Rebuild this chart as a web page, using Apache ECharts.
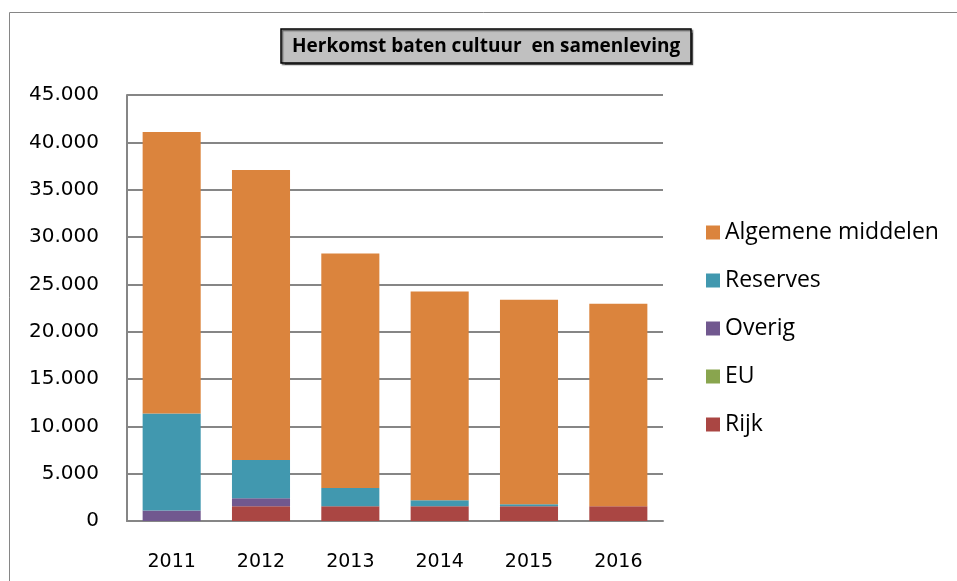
<!DOCTYPE html>
<html>
<head>
<meta charset="utf-8">
<script src="https://cdn.jsdelivr.net/npm/echarts@6/dist/echarts.min.js"></script>
<style>
html,body{margin:0;padding:0;background:#fff;}
#c{width:957px;height:581px;}
</style>
</head>
<body>
<div id="c"></div>
<script>
var categories = ['2011','2012','2013','2014','2015','2016'];
var rijk      = [0, 1560, 1560, 1560, 1560, 1560];
var eu        = [0, 0, 0, 0, 0, 0];
var overig    = [1100, 850, 0, 0, 0, 0];
var reserves  = [10250, 4040, 1915, 640, 210, 0];
var algemeen  = [29740, 30620, 24770, 22030, 21610, 21400];
var yMin = 0, yMax = 45000, yStep = 5000;
var titleText = 'Herkomst baten cultuur  en samenleving';
var legendOrder = ['Algemene middelen','Reserves','Overig','EU','Rijk'];

var chart = echarts.init(document.getElementById('c'), null, {renderer:'canvas'});
function fmt(v){ return String(v).replace(/\B(?=(\d{3})+(?!\d))/g, '.'); }
function s(name, data, color){
  return {name:name, type:'bar', stack:'total', data:data, barCategoryGap:'35%',
    itemStyle:{color:color}, emphasis:{disabled:true}};
}
chart.setOption({
  animation:false,
  backgroundColor:'#ffffff',
  graphic:[{type:'rect', shape:{x:9.5, y:12.5, width:1000, height:1000}, style:{fill:'none', stroke:'#868686', lineWidth:1}, z:-1}],
  title:{text:titleText, left:281, top:29, padding:[8,11,7,11],
    backgroundColor:'#c0c0c0', borderColor:'#000', borderWidth:1.5,
    shadowColor:'rgba(0,0,0,0.5)', shadowOffsetX:1.5, shadowOffsetY:1.5, shadowBlur:1,
    textStyle:{fontFamily:'Open Sans', fontWeight:'bold', fontSize:19, color:'#000'}},
  legend:{orient:'vertical', left:706, top:221, itemWidth:14, itemHeight:14, itemGap:25,
    icon:'rect', data:legendOrder, padding:0,
    textStyle:{fontFamily:'Open Sans', fontSize:23, color:'#000'}},
  grid:{left:127, right:294, top:95, bottom:60, containLabel:false},
  xAxis:{type:'category', data:categories,
    axisLine:{lineStyle:{color:'#868686', width:2}}, axisTick:{show:false},
    axisLabel:{fontFamily:'DejaVu Sans', fontSize:19, color:'#000', margin:32}},
  yAxis:{type:'value', min:yMin, max:yMax, interval:yStep,
    axisLine:{show:true, lineStyle:{color:'#868686', width:2}}, axisTick:{show:false},
    splitLine:{lineStyle:{color:'#868686', width:2}},
    axisLabel:{fontFamily:'DejaVu Sans', fontSize:20, color:'#000', margin:28, formatter:fmt}},
  series:[
    s('Rijk', rijk, '#AA4643'),
    s('EU', eu, '#89A54E'),
    s('Overig', overig, '#71588F'),
    s('Reserves', reserves, '#4198AF'),
    s('Algemene middelen', algemeen, '#DB843D')
  ]
});
</script>
</body>
</html>
